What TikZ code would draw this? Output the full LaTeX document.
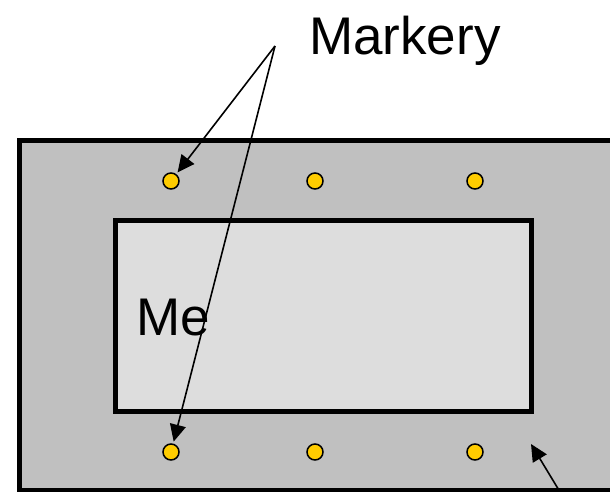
\documentclass[tikz,border=0pt]{standalone}
\usepackage{fontspec}
\setmainfont{Liberation Sans}
\usepackage{tikz}
\usetikzlibrary{arrows.meta}
\usepackage{xcolor}

\definecolor{framegray}{HTML}{C0C0C0}
\definecolor{innergray}{HTML}{DDDDDD}
\definecolor{markgold}{HTML}{FFCC00}

\begin{document}
\begin{tikzpicture}[x=1pt,y=-1pt,
    markdot/.style={circle,draw,line width=1.5pt,fill=markgold,minimum size=16pt,inner sep=0pt},
    lbl/.style={font=\fontsize{53}{60}\selectfont,inner sep=0pt,anchor=base west},
    pointer/.style={-{Triangle[length=17pt,width=16pt]},line width=1.6pt,shorten >=2pt}]

\useasboundingbox (0,0) rectangle (610,492);

% outer frame and inner panel
\draw[line width=5pt,fill=framegray] (19.5,140.5) rectangle (650,490);
\draw[line width=5pt,fill=innergray] (115.5,220.5) rectangle (531.5,411.5);

\node[lbl] (me) at (136,335) {Me};

% markers
\node[markdot] (m1) at (171,181) {};
\node[markdot] (m2) at (315,181) {};
\node[markdot] (m3) at (475,181) {};
\node[markdot] (m4) at (171,452) {};
\node[markdot] (m5) at (315,452) {};
\node[markdot] (m6) at (475,452) {};

\node[lbl] (markery) at (309,55) {Markery};
\coordinate (apex) at (275,46);
\coordinate (tail) at (580,525);
\coordinate (target) at (531,444);

\draw[pointer] (apex) -- (m1);
\draw[pointer] (apex) -- (m4);
\draw[pointer,shorten >=0pt] (tail) -- (target);

\end{tikzpicture}
\end{document}
